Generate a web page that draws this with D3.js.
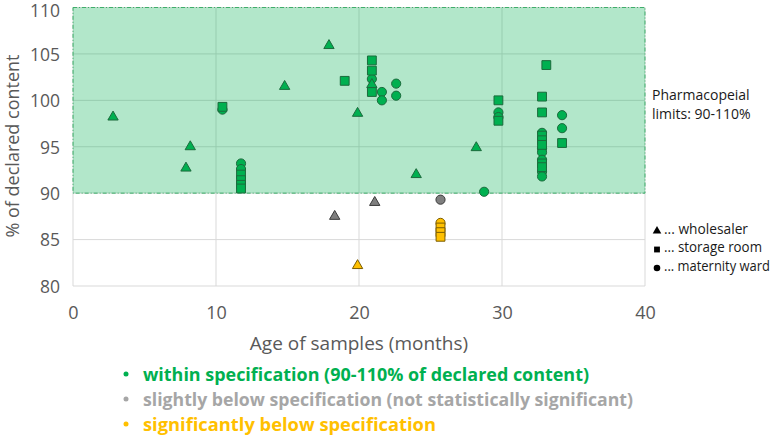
<!DOCTYPE html>
<html>
<head>
<meta charset="utf-8">
<script src="https://cdn.jsdelivr.net/npm/d3@7"></script>
<style>
  body { margin: 0; background: #fff; }
  text { font-family: "Open Sans", sans-serif; }
</style>
</head>
<body>
<div id="chart"></div>
<script>
// ============
// Data
// ============

// wholesaler (triangles): [months, % of declared content, status]
var wholesaler = [
  [2.8, 98.2, "ok"], [7.9, 92.7, "ok"], [8.2, 95.0, "ok"], [14.8, 101.5, "ok"],
  [17.9, 105.9, "ok"], [19.9, 98.6, "ok"], [20.9, 101.7, "ok"], [24.0, 92.0, "ok"],
  [28.2, 94.9, "ok"], [18.3, 87.5, "slight"], [21.1, 89.0, "slight"], [19.9, 82.2, "sig"]
];

// storage room (squares)
var storageRoom = [
  [10.45, 99.3, "ok"], [11.75, 92.0, "ok"], [11.75, 91.4, "ok"], [11.75, 90.9, "ok"],
  [11.75, 90.5, "ok"], [19.0, 102.1, "ok"], [20.9, 104.3, "ok"], [20.9, 103.2, "ok"],
  [20.9, 100.9, "ok"], [29.75, 100.0, "ok"], [29.75, 97.8, "ok"], [32.8, 100.4, "ok"],
  [32.8, 98.7, "ok"], [32.8, 96.2, "ok"], [32.8, 95.7, "ok"], [32.8, 95.2, "ok"],
  [32.8, 93.2, "ok"], [32.8, 92.8, "ok"], [33.1, 103.8, "ok"], [34.2, 95.4, "ok"],
  [25.7, 86.3, "sig"], [25.7, 85.8, "sig"], [25.7, 85.3, "sig"]
];

// maternity ward (circles)
var maternityWard = [
  [10.45, 99.0, "ok"], [11.75, 93.2, "ok"], [11.75, 92.6, "ok"], [20.9, 102.3, "ok"],
  [21.6, 100.9, "ok"], [21.6, 100.0, "ok"], [22.6, 101.8, "ok"], [22.6, 100.5, "ok"],
  [28.75, 90.15, "ok"], [29.75, 98.7, "ok"], [29.75, 98.2, "ok"], [32.8, 96.5, "ok"],
  [32.8, 94.8, "ok"], [32.8, 94.4, "ok"], [32.8, 93.6, "ok"], [32.8, 92.3, "ok"],
  [32.8, 91.8, "ok"], [34.2, 98.4, "ok"], [34.2, 97.0, "ok"],
  [25.7, 89.3, "slight"], [25.7, 86.8, "sig"]
];

var xTicks = [0, 10, 20, 30, 40];
var yTicks = [80, 85, 90, 95, 100, 105, 110];
var specLimits = [90, 110];

var statusLabels = [
  ["ok", "within specification (90-110% of declared content)"],
  ["slight", "slightly below specification (not statistically significant)"],
  ["sig", "significantly below specification"]
];
var siteLabels = ["... wholesaler", "... storage room", "... maternity ward"];

// ============
// Set up of the chart and svg
// ============
var svgWidth = 778;
var svgHeight = 436;

var margin = { top: 7.5, right: 133, bottom: 150, left: 73 };
var width = svgWidth - margin.left - margin.right;
var height = svgHeight - margin.top - margin.bottom;

var fillColor = { ok: "#00b050", slight: "#7f7f7f", sig: "#ffc000" };
var strokeColor = { ok: "#1b6b3c", slight: "#3a3a3a", sig: "#7a5c00" };
var textColor = { ok: "#00b050", slight: "#a6a6a6", sig: "#ffc000" };

var svg = d3.select("#chart")
  .append("svg")
  .attr("width", svgWidth)
  .attr("height", svgHeight);

var chartGroup = svg.append("g")
  .attr("transform", `translate(${margin.left}, ${margin.top})`);

var xLinearScale = d3.scaleLinear().domain([0, 40]).range([0, width]);
var yLinearScale = d3.scaleLinear().domain([80, 110]).range([height, 0]);

// gridlines
chartGroup.append("g")
  .selectAll("line")
  .data(xTicks)
  .enter()
  .append("line")
  .attr("x1", d => xLinearScale(d))
  .attr("x2", d => xLinearScale(d))
  .attr("y1", 0)
  .attr("y2", height)
  .attr("stroke", "#d9d9d9")
  .attr("stroke-width", 1);

chartGroup.append("g")
  .selectAll("line")
  .data(yTicks)
  .enter()
  .append("line")
  .attr("x1", 0)
  .attr("x2", width)
  .attr("y1", d => yLinearScale(d))
  .attr("y2", d => yLinearScale(d))
  .attr("stroke", "#d9d9d9")
  .attr("stroke-width", 1);

// pharmacopeial band
chartGroup.append("rect")
  .attr("x", xLinearScale(0))
  .attr("y", yLinearScale(specLimits[1]))
  .attr("width", xLinearScale(40) - xLinearScale(0))
  .attr("height", yLinearScale(specLimits[0]) - yLinearScale(specLimits[1]))
  .attr("fill", "#00b050")
  .attr("fill-opacity", 0.3)
  .attr("stroke", "#3fae6a")
  .attr("stroke-width", 1)
  .attr("stroke-dasharray", "4,2,1,2");

// axes
var bottomAxis = d3.axisBottom(xLinearScale).tickValues(xTicks).tickSize(0).tickPadding(20);
var leftAxis = d3.axisLeft(yLinearScale).tickValues(yTicks).tickSize(0).tickPadding(13);

var xAxis = chartGroup.append("g")
  .attr("transform", `translate(0, ${height})`)
  .call(bottomAxis);

var yAxis = chartGroup.append("g")
  .call(leftAxis);

xAxis.select(".domain").remove();
xAxis.selectAll("text")
  .attr("fill", "#595959")
  .style("font-size", "18px")
  .style("font-family", "'Open Sans', sans-serif");

yAxis.select(".domain").remove();
yAxis.selectAll("text")
  .attr("fill", "#595959")
  .attr("dy", d => d === 110 ? "0.5em" : "0.36em")  // keep the top label inside the page
  .style("font-size", "17.5px")
  .style("font-family", "'Open Sans', sans-serif");

// ============
// Markers
// ============
function drawSeries(data, symbolType, size) {
  chartGroup.append("g")
    .selectAll("path")
    .data(data)
    .enter()
    .append("path")
    .attr("d", d3.symbol().type(symbolType).size(size))
    .attr("transform", d => `translate(${xLinearScale(d[0])}, ${yLinearScale(d[1])})`)
    .attr("fill", d => fillColor[d[2]])
    .attr("stroke", d => strokeColor[d[2]])
    .attr("stroke-width", 1);
}

drawSeries(maternityWard, d3.symbolCircle, 66);
drawSeries(storageRoom, d3.symbolSquare, 78);
drawSeries(wholesaler, d3.symbolTriangle, 46);

// ============
// Axis titles
// ============
svg.append("text")
  .attr("x", 359)
  .attr("y", 343)
  .attr("text-anchor", "middle")
  .attr("dominant-baseline", "central")
  .attr("fill", "#595959")
  .style("font-size", "19px")
  .text("Age of samples (months)");

svg.append("text")
  .attr("transform", "translate(12, 146) rotate(-90)")
  .attr("text-anchor", "middle")
  .attr("dominant-baseline", "central")
  .attr("fill", "#595959")
  .style("font-size", "18px")
  .text("% of declared content");

// ============
// Annotations on the right
// ============
svg.append("text")
  .attr("x", 652)
  .attr("y", 94)
  .attr("dominant-baseline", "central")
  .attr("fill", "#1a1a1a")
  .style("font-size", "14px")
  .text("Pharmacopeial");

svg.append("text")
  .attr("x", 652)
  .attr("y", 113)
  .attr("dominant-baseline", "central")
  .attr("fill", "#1a1a1a")
  .style("font-size", "14px")
  .text("limits: 90-110%");

var siteSymbols = [d3.symbolTriangle, d3.symbolSquare, d3.symbolCircle];
var siteGroup = svg.append("g");

siteGroup.selectAll("path")
  .data(siteLabels)
  .enter()
  .append("path")
  .attr("d", (d, i) => d3.symbol().type(siteSymbols[i]).size(i === 0 ? 32 : 34)())
  .attr("transform", (d, i) => `translate(657, ${231 + i * 18.5})`)
  .attr("fill", "#000");

var siteWidths = [84, 98, 106];

siteGroup.selectAll("text")
  .data(siteLabels)
  .enter()
  .append("text")
  .attr("x", 664)
  .attr("y", (d, i) => 228 + i * 18.5)
  .attr("dominant-baseline", "central")
  .attr("fill", "#1a1a1a")
  .attr("textLength", (d, i) => siteWidths[i])
  .attr("lengthAdjust", "spacingAndGlyphs")
  .style("font-size", "14px")
  .text(d => d);

// ============
// Status legend below the chart
// ============
var legendGroup = svg.append("g");

legendGroup.selectAll("circle")
  .data(statusLabels)
  .enter()
  .append("circle")
  .attr("cx", 126)
  .attr("cy", (d, i) => 374 + i * 25)
  .attr("r", 2.5)
  .attr("fill", d => textColor[d[0]]);

var legendWidths = [446, 490, 293];

legendGroup.selectAll("text")
  .data(statusLabels)
  .enter()
  .append("text")
  .attr("x", 143)
  .attr("y", (d, i) => 374 + i * 25)
  .attr("dominant-baseline", "central")
  .attr("fill", d => textColor[d[0]])
  .attr("textLength", (d, i) => legendWidths[i])
  .attr("lengthAdjust", "spacingAndGlyphs")
  .style("font-size", "18px")
  .style("font-weight", "bold")
  .text(d => d[1]);
</script>
</body>
</html>
